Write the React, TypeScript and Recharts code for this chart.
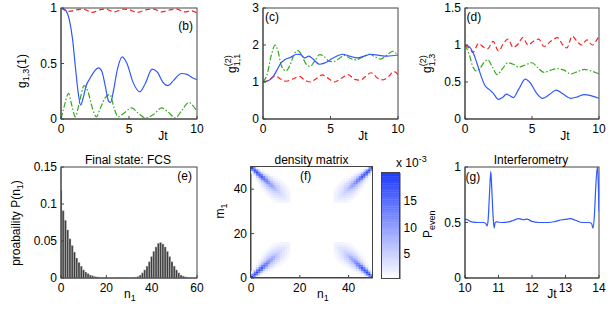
import React from 'react';
import { LineChart, Line, ComposedChart, Bar, Scatter, XAxis, YAxis, ReferenceArea } from 'recharts';

const FONT = '"Liberation Sans", Arial, Helvetica, sans-serif';
const AXIS_COLOR = '#444';
const BLUE = '#2f58ff';
const RED = '#ff1f1f';
const GREEN = '#35a81c';

type Pt = [number, number];

// (b) g_{1,3}(1)
const B_SOLID: Pt[] = [[0, 1], [0.3, 0.985], [0.6, 0.9], [0.85, 0.72], [1.05, 0.48], [1.25, 0.25], [1.45, 0.125], [1.65, 0.2], [1.85, 0.3], [2.1, 0.36], [2.4, 0.42], [2.75, 0.46], [3.0, 0.43], [3.25, 0.3], [3.5, 0.16], [3.65, 0.15], [3.85, 0.25], [4.15, 0.45], [4.5, 0.56], [4.85, 0.5], [5.3, 0.33], [5.8, 0.245], [6.2, 0.32], [6.7, 0.45], [7.1, 0.42], [7.5, 0.33], [7.85, 0.3], [8.3, 0.35], [8.85, 0.41], [9.3, 0.4], [9.7, 0.37], [10, 0.355]];
const B_DASH: Pt[] = [[0, 1], [0.6, 0.97], [1.2, 0.985], [1.6, 0.99], [2.3, 0.96], [2.9, 0.985], [3.3, 0.99], [3.9, 0.965], [4.6, 0.99], [5.0, 0.985], [5.6, 0.96], [6.3, 0.985], [6.8, 0.99], [7.4, 0.965], [8.1, 0.985], [8.5, 0.99], [9.1, 0.965], [9.6, 0.975], [10, 0.955]];
const B_DASHDOT: Pt[] = [[0, 0], [0.25, 0.12], [0.55, 0.23], [0.8, 0.12], [1.05, 0.02], [1.3, 0.12], [1.7, 0.3], [2.0, 0.24], [2.3, 0.1], [2.6, 0.02], [2.9, 0.1], [3.3, 0.2], [3.6, 0.22], [3.9, 0.1], [4.2, 0.02], [4.6, 0.05], [5.2, 0.1], [5.7, 0.05], [6.2, 0.01], [6.8, 0.04], [7.4, 0.1], [7.9, 0.06], [8.4, 0.01], [8.9, 0.08], [9.4, 0.15], [9.7, 0.12], [10, 0.07]];

// (c) g^{(2)}_{1,1}
const C_SOLID: Pt[] = [[0, 1], [0.3, 1.02], [0.7, 1.12], [1.0, 1.3], [1.3, 1.5], [1.6, 1.6], [2.0, 1.66], [2.5, 1.75], [2.8, 1.74], [3.1, 1.65], [3.4, 1.7], [3.7, 1.62], [4.2, 1.48], [4.6, 1.52], [5.2, 1.65], [5.9, 1.75], [6.4, 1.7], [7.0, 1.65], [7.5, 1.7], [8.0, 1.75], [8.6, 1.72], [9.2, 1.7], [10, 1.73]];
const C_DASH: Pt[] = [[0, 1], [0.4, 1.05], [0.9, 1.16], [1.3, 1.08], [1.7, 1.02], [2.2, 1.08], [2.7, 1.15], [3.1, 1.05], [3.5, 1.0], [3.9, 1.08], [4.4, 1.19], [4.9, 1.08], [5.3, 1.0], [5.8, 1.1], [6.3, 1.2], [6.8, 1.07], [7.2, 1.05], [7.6, 1.15], [8.0, 1.25], [8.5, 1.1], [8.9, 1.06], [9.3, 1.15], [9.7, 1.28], [10, 1.2]];
const C_DASHDOT: Pt[] = [[0, 1], [0.3, 1.2], [0.6, 1.7], [0.9, 2.0], [1.1, 1.85], [1.35, 1.45], [1.7, 1.3], [2.0, 1.45], [2.3, 1.75], [2.6, 1.85], [2.9, 1.7], [3.2, 1.48], [3.5, 1.42], [3.8, 1.55], [4.2, 1.74], [4.5, 1.7], [4.9, 1.56], [5.2, 1.55], [5.6, 1.62], [6.0, 1.72], [6.4, 1.65], [6.9, 1.6], [7.4, 1.68], [7.9, 1.75], [8.3, 1.68], [8.7, 1.62], [9.1, 1.7], [9.6, 1.83], [10, 1.72]];

// (d) g^{(2)}_{1,3}
const D_SOLID: Pt[] = [[0, 1], [0.3, 0.98], [0.6, 0.9], [0.9, 0.75], [1.2, 0.58], [1.5, 0.45], [1.8, 0.4], [2.1, 0.35], [2.5, 0.265], [2.8, 0.29], [3.1, 0.335], [3.3, 0.32], [3.6, 0.29], [4.0, 0.4], [4.5, 0.54], [4.9, 0.48], [5.3, 0.36], [5.8, 0.28], [6.3, 0.33], [6.8, 0.39], [7.3, 0.34], [7.9, 0.28], [8.4, 0.3], [8.9, 0.33], [9.5, 0.31], [10, 0.28]];
const D_DASH: Pt[] = [[0, 1], [0.3, 0.96], [0.6, 0.9], [1.0, 1.02], [1.4, 0.97], [1.7, 0.95], [2.1, 1.05], [2.5, 0.92], [2.9, 1.03], [3.2, 1.08], [3.6, 0.97], [4.0, 1.02], [4.3, 1.1], [4.7, 1.0], [5.1, 1.05], [5.5, 1.08], [5.9, 0.98], [6.4, 1.05], [6.9, 1.1], [7.3, 1.0], [7.6, 0.96], [8.0, 1.12], [8.4, 1.04], [8.7, 1.0], [9.1, 1.07], [9.5, 1.0], [9.8, 1.06], [10, 1.12]];
const D_DASHDOT: Pt[] = [[0, 1], [0.3, 0.88], [0.6, 0.7], [0.85, 0.65], [1.1, 0.68], [1.4, 0.76], [1.7, 0.8], [2.0, 0.72], [2.4, 0.6], [2.8, 0.68], [3.2, 0.76], [3.6, 0.74], [4.0, 0.7], [4.5, 0.73], [5.0, 0.76], [5.4, 0.7], [5.9, 0.63], [6.4, 0.66], [6.9, 0.68], [7.4, 0.66], [7.9, 0.61], [8.4, 0.64], [8.9, 0.67], [9.4, 0.65], [10, 0.61]];

// (e) full counting statistics P(n1), n1 = 0..60
const FCS_P = [
  0.119, 0.091, 0.078, 0.065, 0.053, 0.044, 0.035, 0.027, 0.021, 0.016,
  0.011, 0.008, 0.006, 0.004, 0.003, 0.002, 0.0015, 0.001, 0.0007, 0.0005,
  0.0003, 0.0002, 0.0001, 0.0001, 0.0001, 0, 0, 0, 0, 0,
  0.0001, 0.0002, 0.0005, 0.001, 0.002, 0.004, 0.007, 0.011, 0.016, 0.022,
  0.029, 0.036, 0.042, 0.047, 0.048, 0.046, 0.042, 0.036, 0.029, 0.022,
  0.016, 0.011, 0.007, 0.004, 0.0025, 0.0015, 0.0008, 0.0004, 0.0002, 0.0001, 0,
];

// (f) density matrix, one corner (units of 1e-3), by distance k from the diagonal
const RHO_K0 = [20, 19.5, 19, 18, 17, 15.5, 14, 12, 10, 8, 6.5, 5, 4, 3, 2, 1.3];
const RHO_K1 = [12, 14, 14, 13.5, 13, 12, 10.5, 9, 7.5, 6.2, 5, 4, 3, 2.2, 1.5];
const RHO_K2 = [2, 4, 5, 5.5, 6, 6, 5.8, 5.4, 5, 4.4, 3.6, 2.9, 2.2, 1.5];
const RHO_K3 = [0, 1, 2, 3, 3.6, 4, 4.2, 4.2, 3.8, 3.2, 2.6, 2, 1.4];
const RHO_K4 = [0, 0, 0.8, 1.5, 2.2, 2.6, 2.8, 2.8, 2.6, 2.2, 1.8, 1.3];
const RHO_K5 = [0, 0, 0, 0.6, 1, 1.4, 1.7, 1.8, 1.7, 1.4, 1];
const RHO_K6 = [0, 0, 0, 0, 0.5, 0.8, 1, 1, 0.9, 0.7];
const RHO_LAST = 49;
const CBAR_RANGE: [number, number] = [0.1, 20.4];
const CBAR_TICKS = [5, 10, 15];

// (g) P_even vs Jt
const G_SOLID: Pt[] = [[10, 0.53], [10.1, 0.52], [10.2, 0.505], [10.4, 0.5], [10.55, 0.5], [10.62, 0.49], [10.66, 0.47], [10.69, 0.52], [10.73, 0.75], [10.77, 0.96], [10.8, 0.8], [10.84, 0.55], [10.87, 0.45], [10.9, 0.5], [10.95, 0.505], [11.1, 0.5], [11.3, 0.505], [11.45, 0.52], [11.6, 0.535], [11.75, 0.525], [11.85, 0.53], [12.0, 0.51], [12.2, 0.5], [12.5, 0.5], [12.7, 0.51], [12.9, 0.525], [13.05, 0.53], [13.15, 0.535], [13.3, 0.52], [13.5, 0.5], [13.7, 0.5], [13.78, 0.49], [13.82, 0.45], [13.86, 0.55], [13.9, 0.8], [13.95, 1.0], [13.98, 0.85], [14.0, 0.6]];

const DARK = [30, 58, 252];
const cmap = (v: number) => {
  const t = Math.max(0, Math.min(1, (v - CBAR_RANGE[0]) / (CBAR_RANGE[1] - CBAR_RANGE[0])));
  const c = DARK.map((d) => Math.round(255 + (d - 255) * t));
  return `rgb(${c.join(',')})`;
};

const rows = (pts: Pt[]) => pts.map(([t, v]) => ({ t, v }));
const fcsRows = FCS_P.map((p, n) => ({ n, p }));

type Cell = { n: number; m: number; v: number };
const corner: Cell[] = [];
[RHO_K0, RHO_K1, RHO_K2, RHO_K3, RHO_K4, RHO_K5, RHO_K6].forEach((band, k) =>
  band.forEach((v, i) => {
    corner.push({ n: i, m: i + k, v });
    if (k > 0) corner.push({ n: i + k, m: i, v });
  })
);
// cell centres of the four mirrored corners
const heatRows = corner
  .flatMap((c) => [
    c,
    { n: RHO_LAST - c.n, m: RHO_LAST - c.m, v: c.v },
    { n: c.n, m: RHO_LAST - c.m, v: c.v },
    { n: RHO_LAST - c.n, m: c.m, v: c.v },
  ])
  .filter((c) => c.v >= 0.4)
  .map((c) => ({ n: c.n + 0.5, m: c.m + 0.5, fill: cmap(c.v) }));

const CBAR_N = 60;
const CBAR_STEP = (CBAR_RANGE[1] - CBAR_RANGE[0]) / CBAR_N;
const cbarRows = Array.from({ length: CBAR_N }, (_, i) => {
  const v = CBAR_RANGE[0] + CBAR_STEP * (i + 0.5);
  return { x: 0.5, y: v, fill: cmap(v) };
});

// plot boxes in px
const F_L = 250.5, F_T = 166.5, F_W = 122, F_H = 111;
const CB_L = 381.5, CB_T = 172.5, CB_W = 18, CB_H = 106;
const CELL_W = F_W / 50, CELL_H = F_H / 50;
const BAND_H = CB_H / CBAR_N;

const heatCell = (p: any) => (
  <rect x={p.cx - CELL_W / 2} y={p.cy - CELL_H / 2} width={CELL_W} height={CELL_H}
    fill={p.payload.fill} stroke={p.payload.fill} strokeWidth={0.3} />
);
const cbarBand = (p: any) => (
  <rect x={p.cx - CB_W / 2} y={p.cy - BAND_H / 2 - 0.2} width={CB_W} height={BAND_H + 0.4} fill={p.payload.fill} />
);

const tickFont = { fontSize: 12, fontFamily: FONT, fill: '#000' };
const MARGIN = { top: 10, right: 15, bottom: 0, left: 0 };
const at = (l: number, t: number): React.CSSProperties => ({ position: 'absolute', left: l - 40, top: t - 10 });

const boxShape = (p: any) => (
  <rect x={p.x} y={p.y} width={p.width} height={p.height} fill="none" stroke={AXIS_COLOR} strokeWidth={1} />
);

function frame(xd: [number, number], xt: number[], yd: [number, number], yt: number[], xKey = 't', yKey?: string) {
  return [
    <XAxis key="xb" type="number" dataKey={xKey} domain={xd} ticks={xt} interval={0} allowDataOverflow height={25}
      stroke={AXIS_COLOR} tickSize={-3} tickMargin={8} tick={tickFont} />,
    <XAxis key="xt" xAxisId="top" orientation="top" type="number" dataKey={xKey} domain={xd} ticks={xt} interval={0}
      allowDataOverflow height={0} stroke={AXIS_COLOR} tickSize={-3} tick={false} />,
    <YAxis key="yl" type="number" dataKey={yKey} domain={yd} ticks={yt} interval={0} allowDataOverflow width={40}
      stroke={AXIS_COLOR} tickSize={-3} tickMargin={7} tick={tickFont} />,
    <YAxis key="yr" yAxisId="right" orientation="right" type="number" dataKey={yKey} domain={yd} ticks={yt} interval={0}
      allowDataOverflow width={0} stroke={AXIS_COLOR} tickSize={-3} tick={false} />,
  ];
}

const box = (xd: [number, number], yd: [number, number]) => (
  <ReferenceArea x1={xd[0]} x2={xd[1]} y1={yd[0]} y2={yd[1]} ifOverflow="visible" shape={boxShape} />
);

const lineBase = { type: 'monotone' as const, dataKey: 'v', dot: false, isAnimationActive: false, strokeWidth: 1.2 };

function Coherence({ x, y, w, h, yd, yt, solid, dash, dashdot }: {
  x: number; y: number; w: number; h: number; yd: [number, number]; yt: number[]; solid: Pt[]; dash: Pt[]; dashdot: Pt[];
}) {
  return (
    <div style={at(x, y)}>
      <LineChart width={w + 55} height={h + 35} margin={MARGIN}>
        {frame([0, 10], [0, 5, 10], yd, yt)}
        <Line {...lineBase} data={rows(dashdot)} stroke={GREEN} strokeDasharray="6 2 1.5 2" />
        <Line {...lineBase} data={rows(dash)} stroke={RED} strokeDasharray="5 3" />
        <Line {...lineBase} data={rows(solid)} stroke={BLUE} />
        {box([0, 10], yd)}
      </LineChart>
    </div>
  );
}

const T = (p: React.SVGProps<SVGTextElement>) => <text fontFamily={FONT} fontSize={12} fill="#000" {...p} />;

export default function App() {
  return (
    <div style={{ position: 'fixed', left: 0, top: 0, width: 610, height: 310, background: '#fff', overflow: 'hidden' }}>
      <Coherence x={60.5} y={7.5} w={136} h={111} yd={[0, 1]} yt={[0, 0.5, 1]} solid={B_SOLID} dash={B_DASH} dashdot={B_DASHDOT} />
      <Coherence x={262.5} y={7.5} w={135} h={111} yd={[0, 3]} yt={[0, 1, 2, 3]} solid={C_SOLID} dash={C_DASH} dashdot={C_DASHDOT} />
      <Coherence x={464.5} y={7.5} w={134} h={111} yd={[0, 1.5]} yt={[0, 0.5, 1, 1.5]} solid={D_SOLID} dash={D_DASH} dashdot={D_DASHDOT} />

      <div style={at(60.5, 166.5)}>
        <ComposedChart width={136 + 55} height={111 + 35} margin={MARGIN} data={fcsRows} barCategoryGap={0} barGap={0}>
          {frame([0, 60], [0, 20, 40, 60], [0, 0.15], [0, 0.05, 0.1, 0.15], 'n')}
          <Bar dataKey="p" fill="#3a3a3a" stroke="#d0d0d0" strokeWidth={0.4} barSize={2.27} isAnimationActive={false} />
          {box([0, 60], [0, 0.15])}
        </ComposedChart>
      </div>

      <div style={at(F_L, F_T)}>
        <ComposedChart width={F_W + 55} height={F_H + 35} margin={MARGIN}>
          {frame([0, 50], [0, 20, 40], [0, 50], [0, 20, 40], 'n', 'm')}
          <Scatter data={heatRows} shape={heatCell} isAnimationActive={false} />
        </ComposedChart>
      </div>

      <div style={{ position: 'absolute', left: CB_L, top: CB_T - 10 }}>
        <ComposedChart width={CB_W + 30} height={CB_H + 20} margin={{ top: 10, right: 0, bottom: 10, left: 0 }}>
          <XAxis type="number" dataKey="x" domain={[0, 1]} allowDataOverflow hide />
          <YAxis type="number" dataKey="y" domain={CBAR_RANGE} ticks={CBAR_TICKS} interval={0} allowDataOverflow width={0}
            stroke={AXIS_COLOR} tickSize={-3} tick={false} />
          <YAxis yAxisId="right" orientation="right" type="number" dataKey="y" domain={CBAR_RANGE} ticks={CBAR_TICKS}
            interval={0} allowDataOverflow width={30} stroke={AXIS_COLOR} tickSize={-3} tickMargin={6.5} tick={tickFont} />
          <Scatter data={cbarRows} shape={cbarBand} isAnimationActive={false} />
        </ComposedChart>
      </div>

      <div style={at(464.5, 166.5)}>
        <LineChart width={134 + 55} height={111 + 35} margin={MARGIN}>
          {frame([10, 14], [10, 11, 12, 13, 14], [0, 1], [0, 0.5, 1])}
          <Line {...lineBase} data={rows(G_SOLID)} stroke={BLUE} />
          {box([10, 14], [0, 1])}
        </LineChart>
      </div>

      <svg width={610} height={310} style={{ position: 'absolute', left: 0, top: 0, pointerEvents: 'none' }}>
        {/* frames of the image panels */}
        <rect x={F_L} y={F_T} width={F_W} height={F_H} fill="none" stroke={AXIS_COLOR} strokeWidth={1} />
        <rect x={CB_L} y={CB_T} width={CB_W} height={CB_H} fill="none" stroke={AXIS_COLOR} strokeWidth={1} />

        {/* y labels */}
        <T x={26} y={71} transform="rotate(-90 26 71)" textAnchor="middle">
          g<tspan dy={3} fontSize={9}>1,3</tspan><tspan dy={-3}>(1)</tspan>
        </T>
        <T x={236} y={73} transform="rotate(-90 236 73)">
          g<tspan dy={-5} fontSize={9}>(2)</tspan><tspan dx={-11} dy={9} fontSize={9}>1,1</tspan>
        </T>
        <T x={431} y={73} transform="rotate(-90 431 73)">
          g<tspan dy={-5} fontSize={9}>(2)</tspan><tspan dx={-11} dy={9} fontSize={9}>1,3</tspan>
        </T>
        <T x={19.5} y={223} transform="rotate(-90 19.5 223)" textAnchor="middle">
          proabaility P(n<tspan dy={3} fontSize={9}>1</tspan><tspan dy={-3}>)</tspan>
        </T>
        <T x={224} y={211} transform="rotate(-90 224 211)" textAnchor="middle">
          m<tspan dy={3} fontSize={9}>1</tspan>
        </T>
        <T x={431.5} y={238} transform="rotate(-90 431.5 238)">
          P<tspan dy={3} fontSize={9}>even</tspan>
        </T>

        {/* x labels */}
        <T x={163} y={140} textAnchor="middle">Jt</T>
        <T x={363} y={140} textAnchor="middle">Jt</T>
        <T x={565} y={140} textAnchor="middle">Jt</T>
        <T x={552} y={298} textAnchor="middle">Jt</T>
        <T x={124} y={298}>n<tspan dy={3} fontSize={9}>1</tspan></T>
        <T x={317} y={298}>n<tspan dy={3} fontSize={9}>1</tspan></T>

        {/* titles */}
        <T x={128} y={164} textAnchor="middle">Final state: FCS</T>
        <T x={311.5} y={163.5} textAnchor="middle">density matrix</T>
        <T x={531} y={163.5} textAnchor="middle">Interferometry</T>
        <T x={396} y={167}>x 10<tspan dy={-5} fontSize={9}>-3</tspan></T>

        {/* panel tags */}
        <T x={193} y={30} textAnchor="end">(b)</T>
        <T x={265} y={21}>(c)</T>
        <T x={466.5} y={21}>(d)</T>
        <T x={192} y={180} textAnchor="end">(e)</T>
        <T x={300} y={180}>(f)</T>
        <T x={465.5} y={181}>(g)</T>
      </svg>
    </div>
  );
}
